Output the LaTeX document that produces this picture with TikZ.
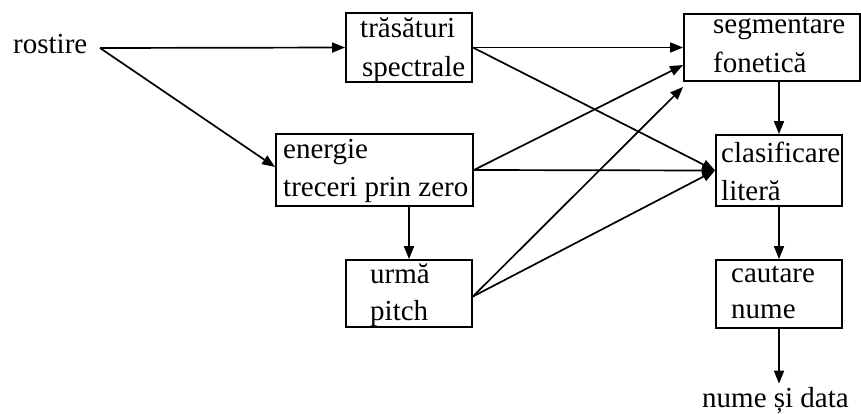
\documentclass[tikz,border=0pt]{standalone}
\usepackage{fontspec}
\setmainfont{Liberation Serif}
\usetikzlibrary{arrows.meta}
\begin{document}
\begin{tikzpicture}[x=1pt, y=-1pt,
  box/.style={draw, line width=1.8pt, inner sep=0pt, minimum width=#1},
  lbl/.style={anchor=base west, inner sep=0pt, font=\fontsize{29}{38}\selectfont},
  arr/.style={line width=1.7pt, -{Triangle[length=13pt, width=10pt]}}]
\useasboundingbox (0,0) rectangle (861,413);

% processing blocks
\node[box=126pt, minimum height=69pt] (tras) at (409,47.5) {};
\node[box=197pt, minimum height=72pt] (ener) at (374.5,170) {};
\node[box=126pt, minimum height=67pt] (urma) at (409,293.5) {};
\node[box=176pt, minimum height=67pt] (segm) at (772,47.5) {};
\node[box=126pt, minimum height=71pt] (clas) at (779,170.5) {};
\node[box=126pt, minimum height=68pt] (caut) at (779,294) {};

% block texts
\node[lbl] (rost) at (13,53) {rostire};
\node[lbl] (t1) at (360,37) {trăsături};
\node[lbl] (t2) at (362,76) {spectrale};
\node[lbl] (e1) at (283,158) {energie};
\node[lbl] (e2) at (283,196) {treceri prin zero};
\node[lbl] (u1) at (370,283) {urmă};
\node[lbl] (u2) at (370,320) {pitch};
\node[lbl] (s1) at (713,33) {segmentare};
\node[lbl] (s2) at (713,72) {fonetică};
\node[lbl] (c1) at (721,162) {clasificare};
\node[lbl] (c2) at (721,200) {literă};
\node[lbl] (k1) at (731,282) {cautare};
\node[lbl] (k2) at (731,318) {nume};
\node[lbl] (nume) at (702,407) {nume și data};

\coordinate (fork) at (100,48);

% connectors
\draw[arr] (fork) -- (tras.west);
\draw[arr] (fork) -- ([yshift=3pt]ener.west);
\draw[arr] (tras.east) -- (segm.west);
\draw[arr] (tras.east) -- (clas.west);
\draw[arr] (ener.east) -- ([yshift=-17.5pt]segm.west);
\draw[arr] (ener.east) -- (clas.west);
\draw[arr] ([yshift=-3pt]urma.east) -- ([yshift=-5pt]segm.south west);
\draw[arr] ([yshift=-3pt]urma.east) -- (clas.west);
\draw[arr] (urma.north |- ener.south) -- (urma.north);
\draw[arr] (clas.north |- segm.south) -- (clas.north);
\draw[arr] (clas.south) -- (caut.north);
\draw[arr, shorten >=3pt] (caut.south) -- (caut.south |- nume.north);
\end{tikzpicture}
\end{document}
